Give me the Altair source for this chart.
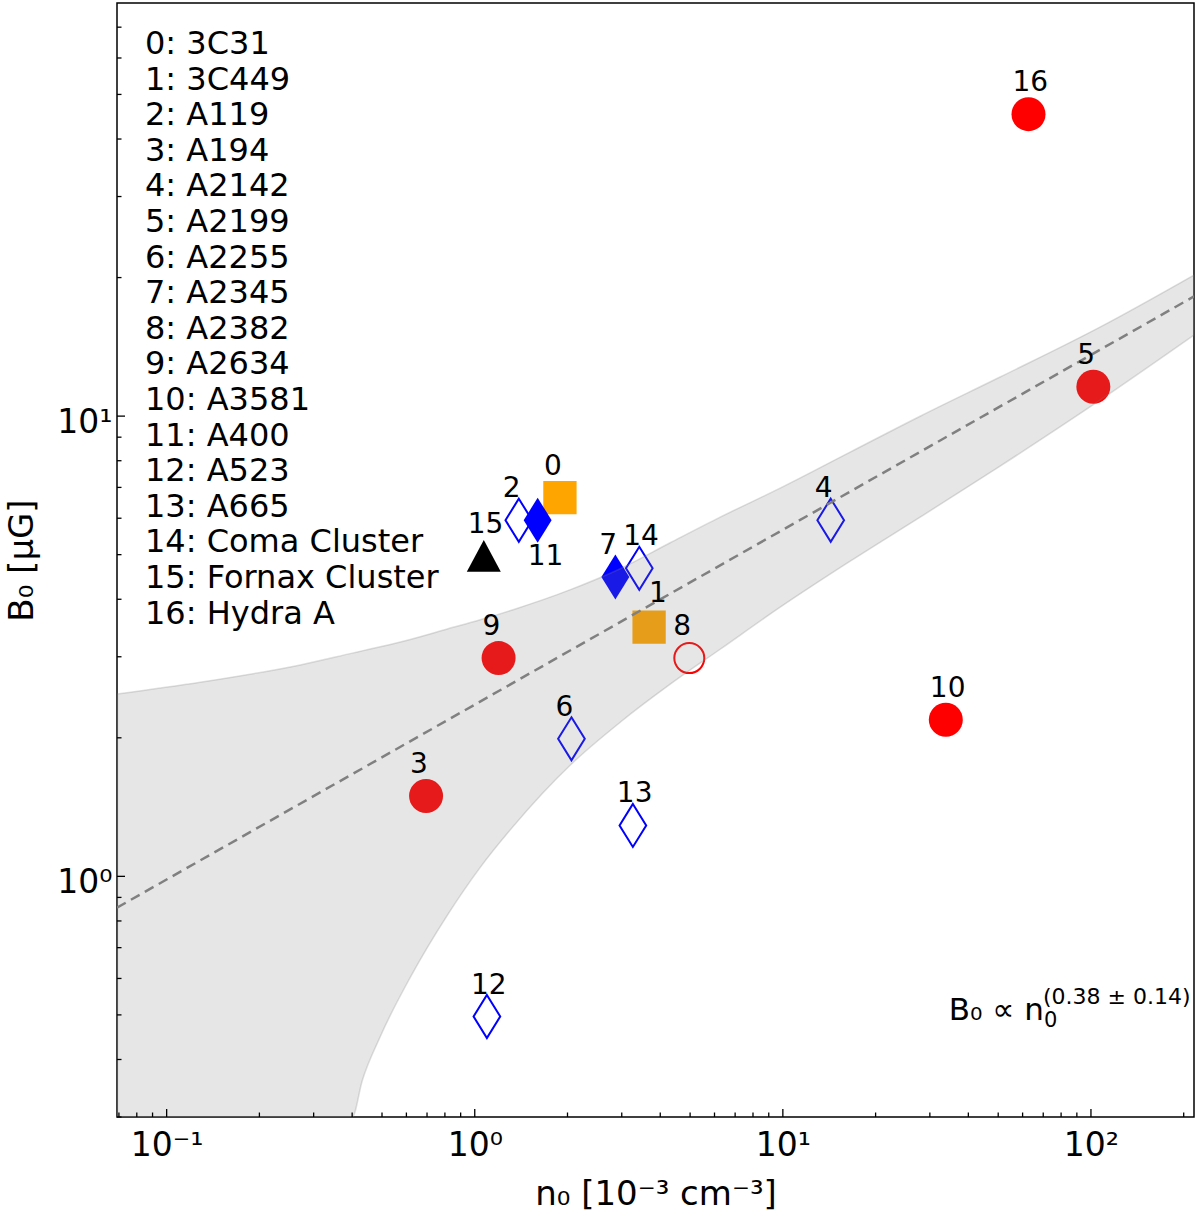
import altair as alt
import pandas as pd

# ---------------- data ----------------
idx = list(range(17))
names = ["3C31", "3C449", "A119", "A194", "A2142", "A2199", "A2255", "A2345",
         "A2382", "A2634", "A3581", "A400", "A523", "A665", "Coma Cluster",
         "Fornax Cluster", "Hydra A"]
n0 = [1.89, 3.68, 1.39, 0.695, 14.3, 101.8, 2.06, 2.86, 4.97, 1.195, 33.8,
      1.60, 1.095, 3.26, 3.42, 1.07, 62.7]
B0 = [6.65, 3.48, 5.94, 1.495, 5.94, 11.58, 1.99, 4.47, 2.98, 2.98, 2.19,
      5.94, 0.496, 1.29, 4.67, 4.97, 45.3]
kind = ["square", "square", "open_diamond", "circle", "open_diamond", "circle",
        "open_diamond", "diamond", "open_circle", "circle", "circle", "diamond",
        "open_diamond", "open_diamond", "open_diamond", "triangle", "circle"]

# confidence band (edges)
band_n = [0.0692, 0.1286, 0.2716, 0.4004, 0.4315, 0.4937, 0.6177, 0.8143, 1.042,
          1.333, 2.056, 2.966, 4.309, 6.260, 9.800, 16.54, 27.90, 50.71, 107.0, 216.0]
band_hi = [2.49, 2.64, 2.880, 3.055, 3.090, 3.154, 3.271, 3.446, 3.609,
           3.797, 4.203, 4.660, 5.306, 6.032, 6.975, 8.352, 9.995, 12.16, 15.61, 20.25]
band_lo = [0.3, 0.3, 0.3, 0.3, 0.3601, 0.4489, 0.6033, 0.8226, 1.046,
           1.284, 1.752, 2.162, 2.615, 3.115, 3.844, 4.839, 6.032, 7.786, 10.83, 15.00]

# fitted power law (end points of dashed line)
fit_n = [0.069, 216]
fit_B = [0.855, 18.2]

# tick positions
x_major = [0.1, 1, 10, 100]
x_minor = [0.07, 0.08, 0.09, 0.2, 0.3, 0.4, 0.5, 0.6, 0.7, 0.8, 0.9,
           2, 3, 4, 5, 6, 7, 8, 9, 20, 30, 40, 50, 60, 70, 80, 90, 200]
y_major = [1, 10]
y_minor = [0.3, 0.4, 0.5, 0.6, 0.7, 0.8, 0.9, 2, 3, 4, 5, 6, 7, 8, 9,
           20, 30, 40, 50, 60, 70]

# ---------------- chart ----------------
W, H = 1077, 1114
FONT = "DejaVu Sans"

xs = alt.Scale(type="log", domain=[0.069, 216], nice=False)
ys = alt.Scale(type="log", domain=[0.3, 79], nice=False)

pts = pd.DataFrame({"idx": idx, "name": names, "n0": n0, "B0": B0, "kind": kind})
pts["lab"] = pts["idx"].astype(str)

x_axis = alt.Axis(values=x_major, ticks=False, tickSize=0, domain=False, grid=False,
                  labelExpr="datum.value < 0.5 ? '10⁻¹' : datum.value < 5 ? '10⁰' : datum.value < 50 ? '10¹' : '10²'",
                  labelFontSize=33, labelFont=FONT, labelColor="black",
                  labelBaseline="alphabetic", labelPadding=38,
                  title="n₀ [10⁻³ cm⁻³]", titleFontSize=34, titleFont=FONT,
                  titleFontWeight="normal", titleColor="black",
                  titleBaseline="alphabetic", titleY=87)
y_axis = alt.Axis(values=y_major, ticks=False, tickSize=0, domain=False, grid=False,
                  labelExpr="datum.value < 5 ? '10⁰' : '10¹'",
                  labelFontSize=33, labelFont=FONT, labelColor="black",
                  labelBaseline="alphabetic", labelOffset=16, labelPadding=5,
                  title="B₀ [μG]", titleFontSize=34, titleFont=FONT,
                  titleFontWeight="normal", titleColor="black",
                  titleBaseline="alphabetic", titleX=-85)


def X(field):
    return alt.X(field, scale=xs, axis=x_axis)


def Y(field):
    return alt.Y(field, scale=ys, axis=y_axis)


base = alt.Chart(pts)


def layer(k, **mk):
    return base.transform_filter(alt.datum.kind == k).mark_point(opacity=1, **mk).encode(
        x=X("n0:Q"), y=Y("B0:Q"))


DIAMOND = "M0,-1L0.62,0L0,1L-0.62,0Z"
TRIANGLE = "M0,-0.94L1,0.94L-1,0.94Z"

circles = layer("circle", shape="circle", filled=True, color="#FF0000", size=1156)
ocircle = layer("open_circle", shape="circle", filled=False, color="#FF0000", strokeWidth=2, size=900)
squares = layer("square", shape="square", filled=True, color="#FFA500", size=1110)
fdiam = layer("diamond", shape=DIAMOND, filled=True, color="#0000FF", size=2025)
odiam = layer("open_diamond", shape=DIAMOND, filled=False, color="#0000FF", strokeWidth=2, size=1849)
tri = layer("triangle", shape=TRIANGLE, filled=True, color="black", size=1156)

band_df = pd.DataFrame({"n": band_n, "hi": band_hi, "lo": band_lo})
band = alt.Chart(band_df).mark_area(
    clip=True, interpolate="monotone", fill="#808080", fillOpacity=0.2,
    stroke="#808080", strokeOpacity=0.25, strokeWidth=1.5
).encode(x=X("n:Q"), y=Y("hi:Q"), y2="lo:Q")

fit_df = pd.DataFrame({"n": fit_n, "B": fit_B})
fit = alt.Chart(fit_df).mark_line(
    clip=True, color="#808080", strokeWidth=2.5, strokeDash=[10, 6]
).encode(x=X("n:Q"), y=Y("B:Q"))

lab_common = dict(align="left", baseline="alphabetic", fontSize=28, font=FONT, color="black")
labels_main = base.transform_filter("datum.idx != 1 && datum.idx != 11").mark_text(
    dx=-16, dy=-23, **lab_common).encode(x=X("n0:Q"), y=Y("B0:Q"), text="lab:N")
label_11 = base.transform_filter("datum.idx == 11").mark_text(
    dx=-10, dy=45, **lab_common).encode(x=X("n0:Q"), y=Y("B0:Q"), text="lab:N")
label_1 = base.transform_filter("datum.idx == 1").mark_text(
    dx=0, dy=-25, **lab_common).encode(x=X("n0:Q"), y=Y("B0:Q"), text="lab:N")

one = pd.DataFrame({"a": [0]})
legend_lines = [f"{i}: {nm}" for i, nm in zip(idx, names)]
legend_txt = alt.Chart(one).mark_text(
    text=legend_lines, align="left", baseline="alphabetic", fontSize=32,
    lineHeight=35.6, font=FONT, color="black"
).encode(x=alt.value(28), y=alt.value(51))

ann_main = alt.Chart(one).mark_text(
    text="B₀ ∝ n", align="right", baseline="alphabetic", fontSize=31, font=FONT, color="black"
).encode(x=alt.value(927), y=alt.value(1017))
ann_sub = alt.Chart(one).mark_text(
    text="0", align="left", baseline="alphabetic", fontSize=21, font=FONT, color="black"
).encode(x=alt.value(927), y=alt.value(1024))
ann_sup = alt.Chart(one).mark_text(
    text="(0.38 ± 0.14)", align="left", baseline="alphabetic", fontSize=22, font=FONT, color="black"
).encode(x=alt.value(926), y=alt.value(1001))


def xticks(vals, length):
    return alt.Chart(pd.DataFrame({"v": vals})).mark_rule(color="black", strokeWidth=1.3).encode(
        x=X("v:Q"), y=alt.value(H), y2=alt.value(H - length))


def yticks(vals, length):
    return alt.Chart(pd.DataFrame({"v": vals})).mark_rule(color="black", strokeWidth=1.3).encode(
        y=Y("v:Q"), x=alt.value(0), x2=alt.value(length))


chart = alt.layer(
    circles, ocircle, squares, fdiam, odiam, tri,
    band, fit,
    labels_main, label_11, label_1,
    legend_txt, ann_main, ann_sub, ann_sup,
    xticks(x_major, 8), xticks(x_minor, 4.5), yticks(y_major, 8), yticks(y_minor, 4.5),
).properties(
    width=W, height=H,
    padding={"left": 117, "top": 3, "right": 6, "bottom": 100},
    autosize=alt.AutoSizeParams(type="none"),
).configure(
    font=FONT,
    view=alt.ViewConfig(stroke="black", strokeWidth=1.5),
)

chart.save("out.html", embed_options={"renderer": "svg", "actions": False})
